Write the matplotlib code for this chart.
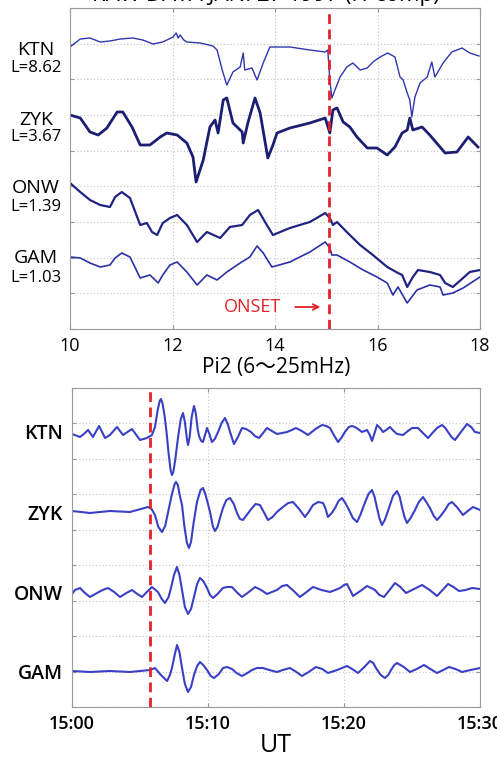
import matplotlib
matplotlib.use("Agg")
import matplotlib.pyplot as plt
import numpy as np

plt.rcParams['font.family'] = ['Open Sans', 'Noto Sans CJK JP', 'DejaVu Sans']

# ---- raw data panel (hours UT, arbitrary offset units) ----
ktn_t = [10.00, 10.20, 10.39, 10.59, 10.78, 10.98, 11.23, 11.42, 11.62, 11.81, 12.01, 12.07, 12.11, 12.15,
         12.22, 12.28, 12.54, 12.79, 12.87, 12.97, 13.06, 13.18, 13.32, 13.38, 13.41, 13.55, 13.65, 13.77,
         13.90, 14.29, 14.68, 14.98, 15.03, 15.07, 15.11, 15.17, 15.27, 15.40, 15.52, 15.66, 15.80, 15.91,
         16.05, 16.20, 16.34, 16.44, 16.50, 16.58, 16.63, 16.67, 16.73, 16.83, 16.97, 17.06, 17.12, 17.28,
         17.45, 17.65, 17.80, 17.98]
ktn_v = [282, 290, 291, 287, 288, 290, 291, 289, 285, 287, 292, 296, 291, 294, 289, 287, 286, 283, 279, 259,
         244, 257, 262, 276, 259, 261, 249, 266, 282, 282, 279, 277, 279, 249, 231, 239, 252, 262, 266, 259,
         261, 267, 272, 276, 272, 252, 249, 236, 229, 212, 232, 246, 252, 267, 252, 266, 277, 281, 276, 273]

zyk_t = [10.00, 10.20, 10.39, 10.55, 10.72, 10.92, 11.03, 11.21, 11.37, 11.56, 11.76, 11.89, 12.09, 12.28,
         12.40, 12.46, 12.60, 12.73, 12.83, 12.89, 12.99, 13.06, 13.18, 13.36, 13.38, 13.47, 13.61, 13.71,
         13.86, 13.96, 14.04, 14.29, 14.68, 14.98, 15.07, 15.13, 15.21, 15.33, 15.46, 15.60, 15.80, 15.99,
         16.19, 16.34, 16.48, 16.58, 16.63, 16.69, 16.87, 17.02, 17.22, 17.32, 17.55, 17.77, 17.96]
zyk_v = [214, 211, 197, 194, 201, 217, 217, 202, 184, 184, 192, 196, 194, 186, 172, 147, 169, 202, 209, 196,
         229, 231, 206, 197, 186, 206, 231, 216, 171, 184, 196, 201, 206, 211, 196, 219, 221, 207, 202, 192,
         181, 181, 174, 182, 196, 199, 211, 199, 202, 194, 182, 176, 177, 192, 182]

onw_t = [10.00, 10.20, 10.39, 10.59, 10.78, 10.88, 11.01, 11.17, 11.37, 11.50, 11.60, 11.70, 11.81, 11.95,
         12.09, 12.28, 12.48, 12.67, 12.93, 13.12, 13.36, 13.51, 13.67, 13.84, 13.96, 14.29, 14.68, 14.98,
         15.07, 15.13, 15.21, 15.40, 15.66, 15.91, 16.19, 16.40, 16.48, 16.58, 16.69, 16.79, 17.02, 17.22,
         17.32, 17.47, 17.67, 17.80, 18.00]
onw_v = [146, 137, 129, 124, 122, 132, 137, 131, 104, 106, 97, 94, 106, 111, 114, 104, 87, 97, 91, 102, 104,
         114, 119, 104, 94, 101, 107, 116, 111, 104, 107, 97, 84, 74, 62, 56, 54, 42, 52, 59, 57, 54, 46, 42,
         51, 57, 59]

gam_t = [10.00, 10.20, 10.39, 10.59, 10.78, 10.88, 11.01, 11.17, 11.37, 11.56, 11.72, 11.81, 11.95, 12.09,
         12.28, 12.48, 12.67, 12.87, 13.06, 13.32, 13.51, 13.65, 13.77, 13.94, 14.29, 14.68, 14.98, 15.07,
         15.11, 15.21, 15.46, 15.72, 15.99, 16.19, 16.30, 16.40, 16.58, 16.77, 17.02, 17.22, 17.28, 17.47,
         17.67, 18.00]
gam_v = [72, 71, 66, 62, 64, 71, 76, 72, 51, 54, 46, 54, 64, 67, 57, 44, 54, 49, 57, 66, 72, 83, 76, 62, 67,
         77, 87, 81, 74, 74, 67, 59, 52, 46, 34, 42, 26, 39, 44, 42, 34, 36, 41, 52]

raw_names = ['KTN', 'ZYK', 'ONW', 'GAM']
raw_lvals = ['L=8.62', 'L=3.67', 'L=1.39', 'L=1.03']
raw_name_y = [279, 209, 141, 71]
raw_l_y = [261, 192, 122, 51]
onset_raw = 15.05

# ---- Pi2 panel (minutes after 15:00 UT) ----
ktn_m = [0, 0.59, 0.96, 1.18, 1.54, 1.99, 2.43, 2.79, 3.31, 3.75, 4.41, 5.00, 5.51, 5.88, 6.1, 6.3, 6.45,
         6.54, 6.65, 6.8, 6.95, 7.1, 7.25, 7.35, 7.45, 7.6, 7.8, 8.0, 8.16, 8.3, 8.45, 8.53, 8.65, 8.8, 8.97,
         9.1, 9.25, 9.34, 9.5, 9.63, 9.78, 9.93, 10.1, 10.29, 10.5, 10.74, 11.0, 11.25, 11.45, 11.62, 11.91,
         12.2, 12.5, 12.8, 13.16, 13.45, 13.75, 14.05, 14.34, 14.7, 15.07, 15.45, 15.81, 16.15, 16.47, 16.9,
         17.35, 17.9, 18.38, 18.7, 18.97, 19.25, 19.56, 19.8, 20.07, 20.35, 20.59, 20.8, 21.03, 21.32, 21.69,
         21.9, 22.06, 22.25, 22.43, 22.65, 22.87, 23.1, 23.38, 23.65, 23.9, 24.34, 24.7, 25.0, 25.44, 25.8,
         26.18, 26.5, 26.84, 27.21, 27.45, 27.65, 27.9, 28.16, 28.6, 29.04, 29.35, 29.63, 30.0]
ktn_p = [273, 270, 274, 277, 270, 281, 269, 272, 280, 272, 278, 267, 269, 272, 280, 297, 306,
         308, 304, 292, 275, 254, 237, 232, 235, 248, 270, 288, 294, 285, 268, 262, 270, 290, 301,
         294, 277, 271, 266, 265, 272, 279, 273, 265, 268, 275, 284, 289, 283, 275, 263,
         270, 279, 278, 275, 271, 269, 274, 279, 276, 273, 274, 275, 277, 279, 276,
         272, 278, 282, 281, 279, 272, 265, 269, 275, 280, 281, 280, 278, 275, 277,
         272, 266, 274, 282, 279, 275, 277, 280, 276, 273, 272, 276, 279, 279, 274,
         269, 274, 279, 282, 279, 275, 270, 267, 275, 283, 280, 275, 274]

zyk_m = [0, 1.32, 2.79, 4.26, 5.59, 5.85, 6.10, 6.35, 6.62, 6.85, 7.1, 7.35, 7.55, 7.65, 7.78, 7.95, 8.09,
         8.25, 8.45, 8.60, 8.75, 8.95, 9.19, 9.45, 9.63, 9.8, 10.0, 10.15, 10.35, 10.51, 10.7, 10.9, 11.1,
         11.35, 11.62, 11.9, 12.13, 12.35, 12.57, 12.9, 13.24, 13.5, 13.82, 14.1, 14.41, 14.75, 15.07, 15.51,
         15.9, 16.25, 16.7, 17.13, 17.4, 17.72, 18.1, 18.46, 18.65, 18.82, 19.1, 19.34, 19.6, 19.85, 20.1,
         20.37, 20.65, 20.96, 21.2, 21.47, 21.8, 22.06, 22.25, 22.43, 22.6, 22.79, 23.0, 23.31, 23.6, 23.9,
         24.1, 24.26, 24.45, 24.63, 24.9, 25.22, 25.5, 25.81, 26.05, 26.32, 26.6, 26.84, 27.1, 27.43, 27.7,
         27.94, 28.3, 28.75, 29.1, 29.49, 30.0]
zyk_p = [196, 194, 196, 195, 200, 198, 192, 180, 175, 181, 197, 213, 223, 225, 222, 210, 202,
         182, 164, 159, 165, 185, 205, 217, 219, 213, 203, 195, 181, 176, 180, 190, 199,
         207, 209, 203, 194, 188, 187, 193, 199, 203, 202, 195, 187, 190, 195, 200,
         204, 205, 198, 190, 195, 202, 205, 204, 198, 190, 194, 199, 206, 209, 204,
         197, 189, 185, 192, 202, 213, 217, 210, 199, 189, 182, 187, 199, 211, 216,
         210, 200, 190, 184, 189, 197, 205, 210, 205, 199, 191, 187, 191, 197, 203,
         205, 200, 192, 196, 200, 197]

onw_m = [0, 0.22, 0.59, 0.95, 1.32, 1.84, 2.25, 2.65, 3.1, 3.53, 4.0, 4.41, 4.8, 5.15, 5.5, 5.88, 6.32, 6.6,
         6.84, 7.1, 7.28, 7.5, 7.72, 7.9, 8.09, 8.3, 8.53, 8.75, 8.97, 9.2, 9.41, 9.65, 9.93, 10.15, 10.37,
         10.7, 11.1, 11.4, 11.76, 12.1, 12.5, 13.0, 13.46, 13.9, 14.34, 14.7, 15.07, 15.45, 15.81, 16.3,
         16.76, 17.25, 17.72, 18.35, 18.97, 19.35, 19.71, 20.0, 20.22, 20.45, 20.66, 21.2, 21.69, 22.0,
         22.28, 22.6, 22.94, 23.35, 23.75, 24.15, 24.56, 25.15, 25.74, 26.3, 26.84, 27.25, 27.65, 28.05,
         28.46, 28.95, 29.41, 30.0]
onw_p = [113, 117, 119, 114, 110, 114, 117, 119, 115, 110, 114, 117, 113, 110, 115, 120, 115, 108,
         104, 110, 119, 132, 140, 132, 117, 100, 93, 98, 110, 123, 129, 126, 119, 112, 109,
         113, 119, 120, 120, 115, 110, 115, 120, 117, 113, 115, 117, 121, 122, 116,
         110, 115, 120, 117, 115, 117, 119, 122, 123, 117, 111, 116, 121, 119,
         117, 112, 110, 117, 124, 120, 114, 118, 122, 117, 111, 117, 123, 120,
         116, 117, 119, 118]

gam_m = [0, 1.32, 2.79, 4.26, 5.74, 6.10, 6.54, 6.99, 7.2, 7.35, 7.55, 7.72, 7.9, 8.09, 8.3, 8.53, 8.75,
         8.97, 9.2, 9.41, 9.65, 9.93, 10.2, 10.44, 10.8, 11.1, 11.4, 11.76, 12.1, 12.5, 12.9, 13.24, 13.6,
         14.04, 14.5, 15.07, 15.5, 16.03, 16.5, 16.91, 17.4, 17.94, 18.4, 18.82, 19.5, 20.22, 20.6, 21.03,
         21.5, 21.91, 22.15, 22.35, 22.7, 23.01, 23.25, 23.46, 23.7, 23.9, 24.4, 24.85, 25.35, 25.88, 26.35,
         26.84, 27.3, 27.72, 28.2, 28.68, 29.3, 30.0]
gam_p = [36, 35, 36, 35, 37, 39, 32, 26, 32, 39, 52, 62, 55, 39, 23, 15, 20,
         32, 41, 45, 42, 37, 31, 29, 33, 39, 40, 38, 34, 31, 34, 37, 39,
         39, 37, 35, 37, 39, 35, 31, 35, 40, 38, 34, 37, 41, 38, 34,
         40, 46, 44, 39, 32, 29, 32, 37, 42, 44, 40, 35, 38, 42, 38,
         34, 37, 40, 38, 35, 37, 39]

pi2_names = ['KTN', 'ZYK', 'ONW', 'GAM']
pi2_name_y = [273, 192, 112, 33]
onset_pi2 = 5.74
pi2_ticks = [0, 10, 20, 30]
pi2_ticklabels = ['15:00', '15:10', '15:20', '15:30']

red = '#e3222b'
gridc = '#c4c4c4'

fig = plt.figure(figsize=(4.97, 7.61), dpi=100)
ax1 = fig.add_axes([70/497, 1 - 329/761, 410/497, 321/761])
ax2 = fig.add_axes([72/497, 1 - 707/761, 408/497, 319/761])


def style(ax, ny):
    for s in ax.spines.values():
        s.set_color('#9a9a9a')
        s.set_linewidth(0.8)
    lo, hi = ax.get_ylim()
    ax.set_yticks(np.linspace(lo, hi, ny + 1))
    ax.set_yticklabels([])
    ax.tick_params(axis='both', direction='in', length=3, color='#9a9a9a',
                   top=True, right=True, labelsize=13, pad=6)
    ax.grid(True, linestyle=(0, (1, 2)), color=gridc, linewidth=0.8)


# top panel
ax1.plot(ktn_t, ktn_v, color='#3036b0', lw=1.0)
ax1.plot(zyk_t, zyk_v, color='#1c1e72', lw=2.0)
ax1.plot(onw_t, onw_v, color='#212382', lw=1.6)
ax1.plot(gam_t, gam_v, color='#2c31a6', lw=1.2)
ax1.axvline(onset_raw, color=red, lw=2, linestyle=(0, (3.5, 2)))
ax1.set_xlim(10, 18)
ax1.set_ylim(0, 321)
ax1.set_xticks([10, 12, 14, 16, 18])
style(ax1, 9)
tr1 = ax1.get_yaxis_transform()
for n, l, yn, yl in zip(raw_names, raw_lvals, raw_name_y, raw_l_y):
    ax1.text(-0.083, yn, n, transform=tr1, ha='center', va='center', fontsize=14)
    ax1.text(-0.083, yl, l, transform=tr1, ha='center', va='center', fontsize=12)
ax1.text(14.12, 22, 'ONSET', color=red, fontsize=13, ha='right', va='center')
ax1.annotate('', xy=(14.94, 22), xytext=(14.34, 22),
             arrowprops=dict(arrowstyle='->', color=red, lw=1.3))

fig.text(0.535, 1 - 1/761, 'RAW DATA JAN. 27 1997 (H-comp)', ha='center', va='baseline',
         fontsize=16)

# bottom panel
for m, p in [(ktn_m, ktn_p), (zyk_m, zyk_p), (onw_m, onw_p), (gam_m, gam_p)]:
    ax2.plot(m, p, color='#3a40c4', lw=1.5, solid_joinstyle='round')
ax2.axvline(onset_pi2, color=red, lw=2, linestyle=(0, (3.5, 2)))
ax2.set_xlim(0, 30)
ax2.set_ylim(0, 319)
ax2.set_xticks(pi2_ticks)
ax2.set_xticklabels(pi2_ticklabels, fontweight='semibold')
style(ax2, 9)
tr2 = ax2.get_yaxis_transform()
for n, yn in zip(pi2_names, pi2_name_y):
    ax2.text(-0.022, yn, n, transform=tr2, ha='right', va='center', fontsize=14,
             fontweight='semibold')
ax2.set_title('Pi2 (6〜25mHz)', fontsize=15, pad=11)
ax2.set_xlabel('UT', fontsize=18, labelpad=0)

fig.savefig('out.png', dpi=100, facecolor='white')
